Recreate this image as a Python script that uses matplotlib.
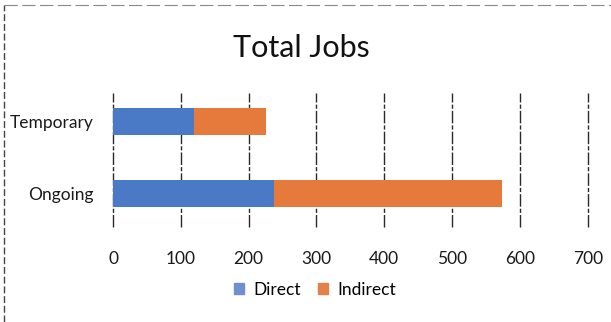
import matplotlib
matplotlib.use('Agg')
import matplotlib.pyplot as plt
from matplotlib.lines import Line2D
from matplotlib.patches import Patch

categories = ['Ongoing', 'Temporary']
direct = [237, 120]
indirect = [336, 105]
x_ticks = [0, 100, 200, 300, 400, 500, 600, 700]

blue = '#4a7ac6'
orange = '#e67a3c'

plt.rcParams['font.family'] = ['Lato', 'DejaVu Sans']

fig = plt.figure(figsize=(6.11, 3.22), dpi=100)
ax = fig.add_axes([0.185, 0.295, 0.777, 0.416])

pos = list(range(len(categories)))
ax.barh(pos, direct, height=0.37, color=blue, label='Direct', zorder=3)
ax.barh(pos, indirect, left=direct, height=0.37, color=orange, label='Indirect', zorder=3)

ax.set_xlim(0, 700)
ax.set_ylim(-0.46, 1.39)
ax.set_xticks(x_ticks)
ax.set_yticks(pos)
ax.set_yticklabels(categories)
ax.tick_params(axis='both', length=0, labelsize=12.5, colors='#1a1a1a')
ax.tick_params(axis='x', pad=17)
ax.tick_params(axis='y', pad=14)
for s in ax.spines.values():
    s.set_visible(False)
ax.xaxis.grid(True, color='#2a2a2a', linewidth=1.0, linestyle=(0, (9, 1.5, 3, 1.5)), zorder=1)
for gl in ax.get_xgridlines():
    gl.set_clip_on(False)

fig.text(0.494, 0.85, 'Total Jobs', ha='center', va='center', fontsize=22, color='#111111')

handles = [Patch(color='#6f8fd0'), Patch(color='#e2814a')]
fig.legend(handles, ['Direct', 'Indirect'], loc='center', bbox_to_anchor=(0.515, 0.1),
           ncol=2, frameon=False, fontsize=12.5, handlelength=0.6, handleheight=0.6,
           handletextpad=0.5, columnspacing=1.0)

# outer chart border, left and top edges only
fig.add_artist(Line2D([0.006, 0.006], [0.0, 0.985], color='#444444', linewidth=1,
                      linestyle=(0, (5, 2)), transform=fig.transFigure))
fig.add_artist(Line2D([0.006, 1.0], [0.985, 0.985], color='#888888', linewidth=0.8,
                      linestyle=(0, (12, 4)), transform=fig.transFigure))

fig.savefig('out.png', dpi=100)
